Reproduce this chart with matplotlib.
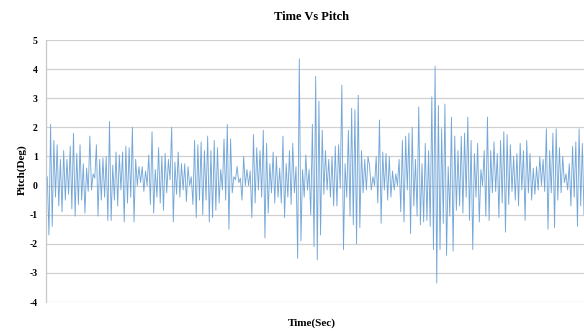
import matplotlib.pyplot as plt
import numpy as np

# pitch samples, left to right, in five stretches
pitch_1 = [0.3, -1.7, 2.1, -1.4, 1.55, -0.4, 1.4, -0.7, 0.9, -0.9, 1.2, -0.5, 0.9, -0.3,
           1.35, -0.8, 1.8, -1.05, 1.1, -0.65, 1.4, -0.5, 0.75, -0.95, 0.6, -0.2, 1.7,
           -0.15, 0.4, 0.25, 1.4, -1.05, 0.9, -0.5, 0.95, -0.4, 1.0, -1.2, 2.2, -1.2,
           0.7, -0.5, 1.15, -0.7, 1.05, -0.15, 1.15, -1.25, 1.35, -0.6, 1.3, -0.4, 2.0,
           -1.25, 0.9, 0.0, 0.65, 0.1, 0.65, -0.2, 0.5, 0.0, 1.05, -0.65, 1.85]
pitch_2 = [-0.95, 0.55, -0.4, 1.3, -0.6, 1.0, -0.85, 1.1, -0.25, 0.9, 0.2, 2.0, -1.25,
           0.8, -0.3, 1.15, -0.4, 0.75, -0.15, 0.75, -0.55, 0.65, 0.0, 0.3, -0.65, 1.55,
           -1.1, 1.4, -0.5, 1.5, -1.0, 1.2, -0.5, 1.7, -1.25, 1.2, -1.1, 1.55, -0.85,
           1.3, -0.6, 0.55, -0.15, 1.6, -0.5, 2.1, -1.5, 1.6, -0.25, 0.3, 0.2, 0.65, 0.1,
           0.25, -0.5, 1.0, 0.0, 0.55, 0.0, 0.5, -1.1, 1.75, -0.6, 1.3, -0.15, 1.2]
pitch_3 = [-0.4, 1.9, -1.8, 1.45, -0.95, 0.75, -0.25, 1.15, -0.6, 1.0, -0.4, 0.6, -0.6,
           1.7, -1.1, 0.75, -0.4, 1.2, -0.65, 1.45, -0.25, 0.65, -2.5, 4.35, -1.9, 0.55,
           -0.4, 1.05, -0.15, 0.55, -1.0, 2.1, -2.1, 3.75, -2.55, 2.9, -1.7, 1.9, -0.3,
           1.2, -0.15, 0.9, -0.4, 1.0, -0.7, 1.35, -0.7, 1.4, -0.1, 3.45, -2.2, 0.75,
           -0.4, 1.9, -1.05, 2.65, -1.35, 2.6, -2.0, 3.1, -1.45, 1.2, -0.25, 0.9, -0.15,
           1.0]
pitch_4 = [0.65, -0.15, 0.3, 0.0, 1.0, -0.6, 2.25, -1.3, 1.15, -0.15, 1.1, -0.5, 1.0,
           -0.4, 0.5, -0.15, 0.4, 0.0, 0.9, -0.9, 1.55, -1.25, 1.7, -0.15, 1.8, -1.65,
           2.0, -0.7, 0.9, -1.05, 2.7, -1.35, 0.75, -1.25, 1.45, -1.2, 1.2, -1.4, 3.05,
           -2.2, 4.1, -3.35, 2.75, -2.2, 1.95, -1.3, 2.8, -2.4, 0.65, -1.05, 2.35, -2.25,
           1.7, -0.85, 1.2, -0.7, 1.7, -0.95, 1.8, -0.4, 2.35, -1.2, 1.55, -2.2, 1.1,
           -0.4]
pitch_5 = [1.45, -1.25, 0.55, 0.0, 1.2, -1.05, 2.35, -1.2, 1.2, -0.25, 1.5, -0.2, 1.1,
           -1.1, 1.55, -0.6, 1.85, -1.6, 1.75, -0.65, 1.4, -0.2, 1.0, -0.5, 1.1, -0.7,
           1.45, -0.15, 1.2, -1.2, 1.55, -0.25, 1.1, -0.5, 0.6, -0.3, 0.65, -0.15, 1.0,
           0.0, 0.9, -0.2, 1.95, -1.5, 1.2, -0.25, 1.8, -1.45, 1.95, -0.5, 1.3, -0.25,
           1.0, 0.1, 0.4, -0.15, 0.75, -0.7, 1.35, -0.4, 1.5, -1.4, 1.95, -0.7, 1.45,
           -1.0]

pitch = np.array(pitch_1 + pitch_2 + pitch_3 + pitch_4 + pitch_5)
t = np.arange(len(pitch))

y_ticks = list(range(-4, 6))

plt.rcParams['font.family'] = ['Liberation Serif', 'DejaVu Serif']

fig = plt.figure(figsize=(5.84, 3.31), dpi=100)
ax = fig.add_axes([46/584, 1 - 302/331, 1 - 46/584, 262/331])

ax.plot(t, pitch, "-", color="#74a7d8", linewidth=0.65)

ax.set_ylim(-4, 5)
ax.set_xlim(-0.8, len(pitch) - 1)
ax.set_yticks(y_ticks)
ax.set_yticklabels([str(v) for v in y_ticks], fontsize=7, fontweight='bold')
ax.set_xticks([])
ax.tick_params(axis='y', length=0, pad=6)
ax.grid(True, axis='y', color='#d0d0d0', linewidth=0.9)
ax.set_axisbelow(True)

for side in ['top', 'right', 'bottom']:
    ax.spines[side].set_visible(False)
ax.spines['left'].set_color('#c8c8c8')
ax.spines['left'].set_linewidth(0.9)

fig.text(312/584, 1 - 17/331, "Time Vs Pitch", ha='center', va='center',
         fontsize=9, fontweight='bold')
fig.text(312/584, 1 - 323/331, "Time(Sec)", ha='center', va='center',
         fontsize=8, fontweight='bold')
fig.text(22/584, 1 - 170/331, "Pitch(Deg)", ha='center', va='center',
         rotation=90, fontsize=8, fontweight='bold')

fig.savefig("out.png", dpi=100)
